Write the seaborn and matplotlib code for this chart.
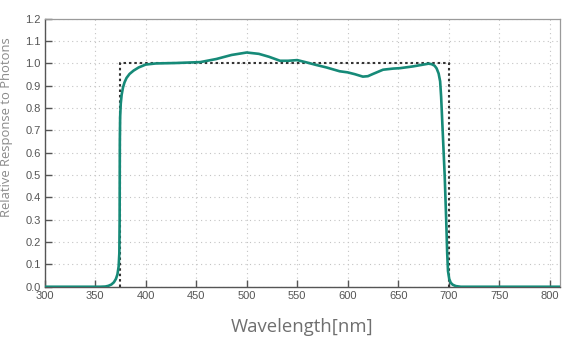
import matplotlib
matplotlib.use("Agg")
import matplotlib.pyplot as plt
import seaborn as sns
import pandas as pd

# Measured response curve
wavelength = [300, 355, 360, 363, 366, 368.5, 370.5, 372, 373.2, 373.9, 374.2, 374.3, 374.4, 374.7,
              375.3, 376.2, 377.5, 379, 381, 384, 388, 393, 400, 410, 430, 454, 470, 485, 500, 512,
              522, 533, 541, 550, 559, 569, 579, 592, 600, 607, 615, 620, 625, 635, 645, 652, 665,
              675, 680, 683, 686, 688, 690, 691.5, 692.5, 693.5, 695, 696, 697.5, 698.5, 699.3,
              700.5, 702, 704, 707, 712, 810]
response = [0, 0, 0.001, 0.004, 0.01, 0.02, 0.035, 0.055, 0.09, 0.15, 0.3, 0.5, 0.65, 0.76,
            0.82, 0.86, 0.892, 0.915, 0.935, 0.953, 0.968, 0.982, 0.995, 1.0, 1.002, 1.006, 1.02,
            1.038, 1.049, 1.043, 1.03, 1.012, 1.012, 1.015, 1.005, 0.993, 0.982, 0.965, 0.96,
            0.952, 0.941, 0.943, 0.953, 0.972, 0.977, 0.979, 0.987, 0.995, 0.999, 0.997, 0.99,
            0.978, 0.955, 0.92, 0.85, 0.75, 0.6, 0.5, 0.3, 0.15, 0.07, 0.035, 0.018, 0.009,
            0.003, 0, 0]

# Ideal response
ideal_wl = [375, 375, 700, 700]
ideal_resp = [0, 1, 1, 0]

x_ticks = [300, 350, 400, 450, 500, 550, 600, 650, 700, 750, 800]
y_ticks = [0.0, 0.1, 0.2, 0.3, 0.4, 0.5, 0.6, 0.7, 0.8, 0.9, 1.0, 1.1, 1.2]

sns.set_theme(style="white")
plt.rcParams['font.family'] = ['Liberation Sans', 'DejaVu Sans']

fig = plt.figure(figsize=(5.73, 3.48), dpi=100)
ax = fig.add_axes([0.078, 0.176, 0.899, 0.77])

df = pd.DataFrame({"wl": wavelength, "resp": response})
di = pd.DataFrame({"wl": ideal_wl, "resp": ideal_resp})

sns.lineplot(data=di, x="wl", y="resp", sort=False, estimator=None, ax=ax,
             color="#333333", linewidth=1.5, linestyle=(0, (1.2, 1.4)), zorder=3)
sns.lineplot(data=df, x="wl", y="resp", sort=False, estimator=None, ax=ax,
             color="#168a78", linewidth=1.9, zorder=4)

ax.set_xlim(300, 810)
ax.set_ylim(0, 1.2)
ax.set_xticks(x_ticks)
ax.set_yticks(y_ticks)
ax.set_yticklabels([f"{v:.1f}" for v in y_ticks])
ax.grid(True, color="#c4c4c4", linestyle=(0, (1, 3)), linewidth=0.8)
ax.set_axisbelow(True)

ax.tick_params(axis="both", direction="in", length=5, width=1, color="#555555",
               labelsize=8, labelcolor="#555555", pad=3)
ax.tick_params(top=False, right=False, bottom=True, left=True)

for s in ["left", "bottom"]:
    ax.spines[s].set_color("#555555")
    ax.spines[s].set_linewidth(1.0)
for s in ["top", "right"]:
    ax.spines[s].set_color("#9a9a9a")
    ax.spines[s].set_linewidth(0.9)

ax.set_xlabel("Wavelength[nm]", fontsize=13.3, color="#6f6f6f",
              fontfamily=["Open Sans", "DejaVu Sans"])
ax.set_ylabel("Relative Response to Photons", fontsize=9.4, color="#8a8a8a",
              fontfamily=["Open Sans", "DejaVu Sans"])
ax.xaxis.set_label_coords(0.5, -0.115)
ax.yaxis.set_label_coords(-0.062, 0.595)

fig.savefig("out.png", dpi=100, facecolor="white")
